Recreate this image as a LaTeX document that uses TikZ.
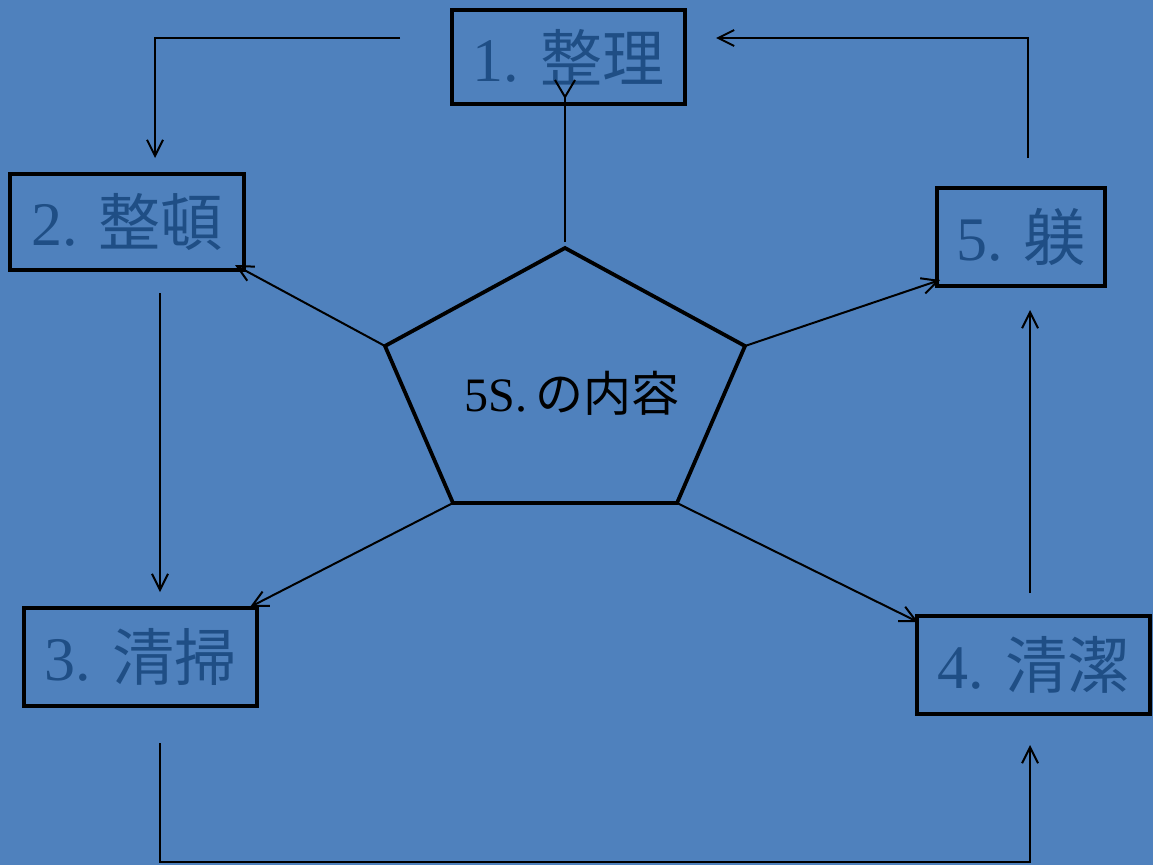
\documentclass[tikz,border=0pt]{standalone}
\usepackage{fontspec}
\setmainfont{Liberation Serif}
\newfontfamily\cjk{Noto Sans CJK JP}
\usetikzlibrary{arrows.meta}
\definecolor{bg}{HTML}{4F81BD}
\definecolor{txt}{HTML}{1F4E85}
\tikzset{
  box/.style={draw=black, line width=3.5pt, inner sep=0pt, text=txt,
    font=\fontsize{62}{64}\selectfont},
  conn/.style={draw=black, line width=2pt},
  arr/.style={conn, -{Straight Barb[length=16pt,width=16pt]}},
  penta/.style={draw=black, line width=3.8pt, line join=miter},
}
\begin{document}
\begin{tikzpicture}[x=1pt,y=-1pt]
\fill[bg] (0,0) rectangle (1153,865);

% boxes
\node[box, minimum width=233pt, minimum height=94pt] (b1) at (568.5,57) {1. {\cjk 整理}};
\node[box, minimum width=234pt, minimum height=96pt] (b2) at (127,222) {2. {\cjk 整頓}};
\node[box, minimum width=168pt, minimum height=98pt] (b5) at (1021,237) {5. {\cjk 躾}};
\node[box, minimum width=233pt, minimum height=98pt] (b3) at (140.5,657) {3. {\cjk 清掃}};
\node[box, minimum width=233pt, minimum height=98pt] (b4) at (1033.5,665) {4. {\cjk 清潔}};

% pentagon
\coordinate (pT) at (565,248);
\coordinate (pR) at (745,346);
\coordinate (pBR) at (677,503);
\coordinate (pBL) at (453,503);
\coordinate (pL) at (385,346);
\draw[penta] (pT) -- (pR) -- (pBR) -- (pBL) -- (pL) -- cycle;
\node[text=black, font=\fontsize{48}{50}\selectfont] (c) at (572,393) {5S.\,{\cjk の内容}};

% connectors from pentagon
\coordinate (tTop) at (565,242);
\coordinate (tEnd) at (565,97);
\coordinate (vL) at (555,80);
\coordinate (vR) at (575,80);
\draw[conn] (tTop) -- (tEnd);
\draw[conn] (vL) -- (tEnd) -- (vR);

\coordinate (a2) at (235,265);
\coordinate (a5) at (940,280);
\coordinate (a3) at (250,607);
\coordinate (a4) at (918,622);
\draw[arr] (pL) -- (a2);
\draw[arr] (pR) -- (a5);
\draw[arr] (pBL) -- (a3);
\draw[arr] (pBR) -- (a4);

% cycle connectors
\coordinate (s12) at (400,38);
\coordinate (k12) at (155,38);
\coordinate (e12) at (155,158);
\draw[arr] (s12) -- (k12) -- (e12);

\coordinate (s23) at (160,293);
\coordinate (e23) at (160,592);
\draw[arr] (s23) -- (e23);

\coordinate (s34) at (160,743);
\coordinate (k34a) at (160,862);
\coordinate (k34b) at (1030,862);
\coordinate (e34) at (1030,745);
\draw[arr] (s34) -- (k34a) -- (k34b) -- (e34);

\coordinate (s45) at (1030,593);
\coordinate (e45) at (1030,310);
\draw[arr] (s45) -- (e45);

\coordinate (s51) at (1028,158);
\coordinate (k51) at (1028,38);
\coordinate (e51) at (716,38);
\draw[arr] (s51) -- (k51) -- (e51);
\end{tikzpicture}
\end{document}
